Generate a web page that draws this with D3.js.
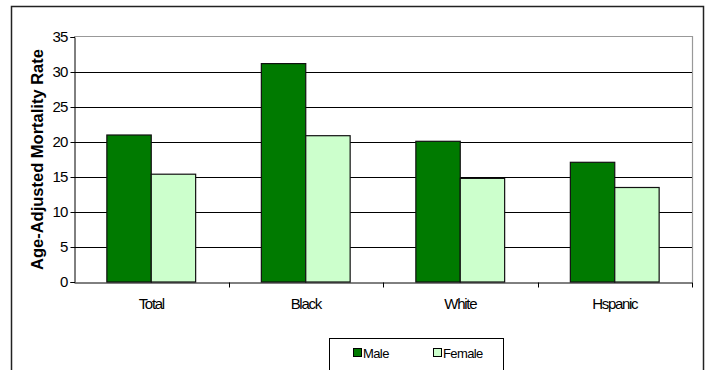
<!DOCTYPE html>
<html>
<head>
<meta charset="utf-8">
<script src="https://cdn.jsdelivr.net/npm/d3@7"></script>
<style>
  html, body { margin: 0; padding: 0; background: #fff; }
  svg text { font-family: Arial, "Liberation Sans", sans-serif; fill: #000; }
</style>
</head>
<body>
<svg id="chart" width="707" height="370"></svg>
<script>
// Age-adjusted mortality rate by race/ethnicity and sex
const categories = ["Total", "Black", "White", "Hspanic"];
const maleValues = [21.0, 31.2, 20.1, 17.1];
const femaleValues = [15.4, 20.9, 14.8, 13.5];
const seriesNames = ["Male", "Female"];
const yTicks = [0, 5, 10, 15, 20, 25, 30, 35];

const colors = { Male: "#007a00", Female: "#ccffcc" };

const svg = d3.select("#chart");

// Outer chart frame
svg.append("rect")
  .attr("x", 11.5).attr("y", 6.5)
  .attr("width", 692).attr("height", 380)
  .attr("fill", "#fff").attr("stroke", "#222").attr("stroke-width", 1.5);

const plot = { left: 74, right: 692, top: 37, bottom: 282 };

const x0 = d3.scaleBand().domain(categories)
  .range([plot.left, plot.right]).paddingInner(0).paddingOuter(0);
const x1 = d3.scaleBand().domain(seriesNames)
  .range([0, x0.bandwidth()]).paddingInner(0).paddingOuter(0.74);
const y = d3.scaleLinear().domain([0, 35]).range([plot.bottom, plot.top]);

// Plot area border (top and right, grey)
svg.append("path")
  .attr("d", `M${plot.left},${plot.top - 0.5}H${plot.right + 0.5}V${plot.bottom}`)
  .attr("fill", "none").attr("stroke", "#999").attr("stroke-width", 1.2);

// Horizontal gridlines
svg.append("g")
  .selectAll("line")
  .data(yTicks.filter(d => d > 0 && d < 35))
  .join("line")
  .attr("x1", plot.left).attr("x2", plot.right)
  .attr("y1", d => Math.round(y(d)) + 0.5).attr("y2", d => Math.round(y(d)) + 0.5)
  .attr("stroke", "#000").attr("stroke-width", 1);

// Bars
const rows = categories.map((c, i) => ({ cat: c, values: [
  { series: "Male", value: maleValues[i] },
  { series: "Female", value: femaleValues[i] }
]}));

const groups = svg.append("g").selectAll("g")
  .data(rows).join("g")
  .attr("transform", d => `translate(${x0(d.cat)},0)`);

groups.selectAll("rect")
  .data(d => d.values).join("rect")
  .attr("x", d => x1(d.series))
  .attr("y", d => y(d.value))
  .attr("width", x1.bandwidth())
  .attr("height", d => y(0) - y(d.value))
  .attr("fill", d => colors[d.series])
  .attr("stroke", "#111").attr("stroke-width", 1.2);

// Y axis
const yAxis = d3.axisLeft(y).tickValues(yTicks).tickSize(4).tickPadding(3);
const gy = svg.append("g")
  .attr("transform", `translate(${plot.left + 0.5},0)`)
  .call(yAxis);
gy.select(".domain").attr("stroke", "#000");
gy.selectAll(".tick line").attr("stroke", "#000");
gy.selectAll(".tick text")
  .attr("font-size", 15).attr("letter-spacing", "-0.8px");

// X axis
const xAxis = d3.axisBottom(x0).tickSize(0).tickPadding(16);
const gx = svg.append("g")
  .attr("transform", `translate(0,${plot.bottom + 0.5})`)
  .call(xAxis);
gx.select(".domain").attr("stroke", "#000");
gx.selectAll(".tick text")
  .attr("font-size", 15).attr("letter-spacing", "-1.3px");

// Category separator ticks
gx.append("g").selectAll("line")
  .data(categories.slice(1).concat(["__end"]))
  .join("line")
  .attr("x1", d => Math.round(d === "__end" ? plot.right : x0(d)) + 0.5)
  .attr("x2", d => Math.round(d === "__end" ? plot.right : x0(d)) + 0.5)
  .attr("y1", 0).attr("y2", 5)
  .attr("stroke", "#000");

// Y axis title
svg.append("text")
  .attr("transform", `translate(43,${(51 + 268) / 2}) rotate(-90)`)
  .attr("text-anchor", "middle")
  .attr("font-size", 16.5).attr("font-weight", "bold")
  .text("Age-Adjusted Mortality Rate");

// Legend
const legend = svg.append("g");
legend.append("rect")
  .attr("x", 329.5).attr("y", 338.5)
  .attr("width", 174).attr("height", 50)
  .attr("fill", "#fff").attr("stroke", "#000").attr("stroke-width", 1);

const legendX = [353, 433];
const items = legend.selectAll("g.item")
  .data(seriesNames).join("g")
  .attr("class", "item")
  .attr("transform", (d, i) => `translate(${legendX[i]},348)`);
items.append("rect")
  .attr("x", 0.5).attr("y", 0.5)
  .attr("width", 8).attr("height", 8)
  .attr("fill", d => colors[d]).attr("stroke", "#000").attr("stroke-width", 1);
items.append("text")
  .attr("x", 10).attr("y", 9.5)
  .attr("font-size", 13).attr("letter-spacing", "-0.6px")
  .text(d => d);
</script>
</body>
</html>
